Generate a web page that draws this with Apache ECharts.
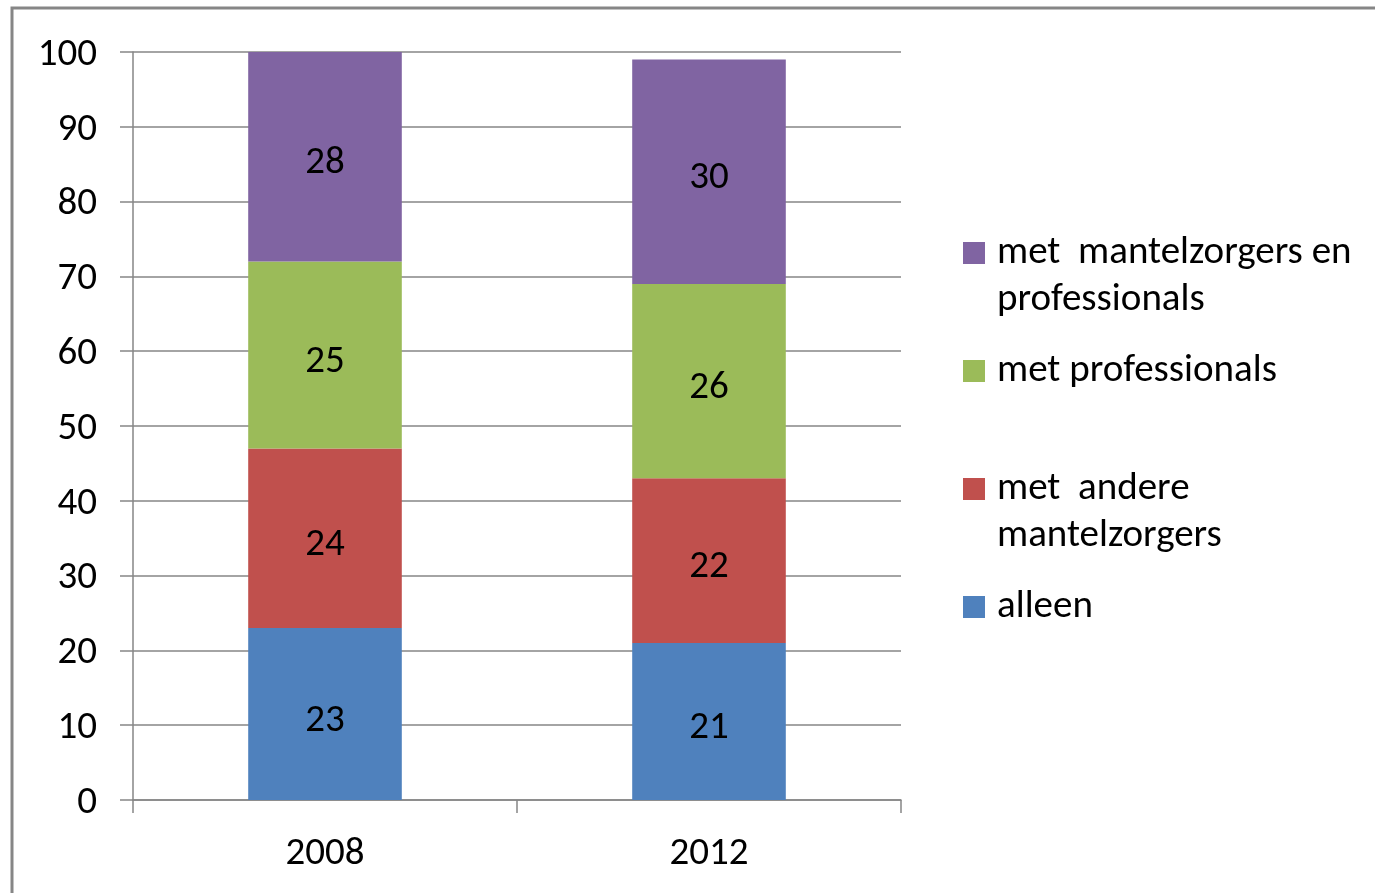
<!DOCTYPE html>
<html>
<head>
<meta charset="utf-8">
<script src="https://cdn.jsdelivr.net/npm/echarts@6/dist/echarts.min.js"></script>
<style>
html,body{margin:0;padding:0;background:#fff;}
#chart{width:1375px;height:893px;}
</style>
</head>
<body>
<div id="chart"></div>
<script>
const categories = ['2008', '2012'];
const alleen = [23, 21];
const metAndere = [24, 22];
const metProfessionals = [25, 26];
const metBeide = [28, 30];
const seriesNames = ['alleen', 'met  andere\nmantelzorgers', 'met professionals', 'met  mantelzorgers en\nprofessionals'];
const colors = ['#4F81BD', '#C0504D', '#9BBB59', '#8064A2'];
const yTicks = [0, 10, 20, 30, 40, 50, 60, 70, 80, 90, 100];

const FONT = 'Carlito, "Liberation Sans", Arial, sans-serif';
const FS = 39;
const LH = 47;

const chart = echarts.init(document.getElementById('chart'));

function mkSeries(name, data, color) {
  return {
    name: name, type: 'bar', stack: 'total', data: data, barWidth: '40%',
    itemStyle: { color: color },
    label: { show: true, position: 'inside', color: '#000', fontFamily: FONT, fontSize: FS, offset: [0, 7] },
    emphasis: { disabled: true }
  };
}

function mkLegend(name, centerY, twoLine) {
  return {
    orient: 'vertical', left: 963, top: twoLine ? centerY - 70.5 : centerY - 23.5,
    padding: 0, itemWidth: 22, itemHeight: 22, icon: 'rect',
    data: [{ name: name }],
    formatter: function (n) { return twoLine ? '\n' + n : n; },
    textStyle: { fontFamily: FONT, fontSize: FS, color: '#000', lineHeight: LH, padding: [0, 0, 0, 7] },
    selectedMode: false
  };
}

chart.setOption({
  animation: false,
  graphic: [{
    type: 'rect', shape: { x: 12, y: 8, width: 1450, height: 950 },
    style: { fill: 'none', stroke: '#868686', lineWidth: 3 }, silent: true
  }],
  grid: { left: 133, right: 474, top: 52, bottom: 93 },
  legend: [
    mkLegend(seriesNames[3], 253, true),
    mkLegend(seriesNames[2], 371, false),
    mkLegend(seriesNames[1], 489, true),
    mkLegend(seriesNames[0], 607, false)
  ],
  xAxis: {
    type: 'category', data: categories,
    axisLine: { lineStyle: { color: '#868686', width: 1.5 } },
    axisTick: { show: true, length: 13, lineStyle: { color: '#868686', width: 1.5 } },
    axisLabel: { fontFamily: FONT, fontSize: FS, color: '#000', margin: 35 }
  },
  yAxis: {
    type: 'value', min: 0, max: 100, interval: 10,
    axisLine: { show: true, lineStyle: { color: '#868686', width: 1.5 } },
    axisTick: { show: true, length: 13, lineStyle: { color: '#868686', width: 1.5 } },
    splitLine: { lineStyle: { color: '#868686', width: 1.5 } },
    axisLabel: { color: '#000', margin: 36,
      formatter: function (v) { return yTicks.indexOf(v) >= 0 ? '{a|' + v + '}' : ''; },
      rich: { a: { fontFamily: FONT, fontSize: FS, color: '#000', padding: [6, 0, 0, 0] } } }
  },
  series: [
    mkSeries(seriesNames[0], alleen, colors[0]),
    mkSeries(seriesNames[1], metAndere, colors[1]),
    mkSeries(seriesNames[2], metProfessionals, colors[2]),
    mkSeries(seriesNames[3], metBeide, colors[3])
  ]
});
</script>
</body>
</html>
